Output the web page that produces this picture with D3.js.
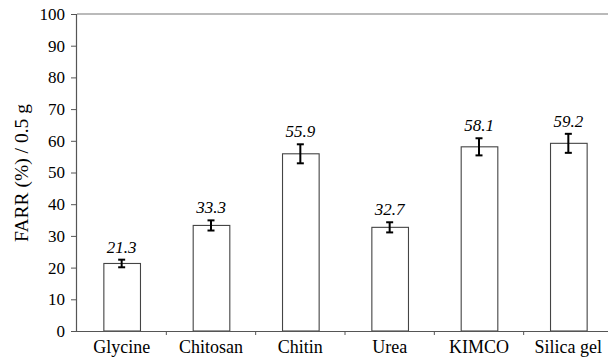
<!DOCTYPE html>
<html>
<head>
<meta charset="utf-8">
<script src="https://cdn.jsdelivr.net/npm/d3@7"></script>
<style>
  html, body { margin: 0; padding: 0; background: #fff; }
  svg text { font-family: "Liberation Serif", "Times New Roman", serif; fill: #000; }
</style>
</head>
<body>
<svg id="chart" width="608" height="357"></svg>
<script>
// Adsorbent materials and their FARR values (mean ± error)
const categories = ["Glycine", "Chitosan", "Chitin", "Urea", "KIMCO", "Silica gel"];
const values = [21.3, 33.3, 55.9, 32.7, 58.1, 59.2];
const errors = [1.2, 1.6, 3.0, 1.6, 2.7, 3.0];
const yTicks = [0, 10, 20, 30, 40, 50, 60, 70, 80, 90, 100];

const serif = "'Liberation Serif', 'Times New Roman', serif";
const svg = d3.select("#chart");
const margin = { left: 77, top: 14, bottom: 331 };
const plotRight = 613;

const x = d3.scaleBand()
  .domain(categories)
  .range([margin.left, plotRight])
  .paddingInner(0.59)
  .paddingOuter(0.295);

const xCat = d3.scaleBand().domain(categories).range([margin.left, plotRight]);

const y = d3.scaleLinear().domain([0, 100]).range([margin.bottom, margin.top]);

// top frame line
svg.append("line")
  .attr("x1", margin.left).attr("x2", 608)
  .attr("y1", y(100)).attr("y2", y(100))
  .attr("stroke", "#777").attr("stroke-width", 1.2);

// bars
svg.append("g").selectAll("rect")
  .data(categories)
  .join("rect")
  .attr("x", d => x(d) + 0.5)
  .attr("y", (d, i) => y(values[i]))
  .attr("width", x.bandwidth())
  .attr("height", (d, i) => y(0) - y(values[i]))
  .attr("fill", "#fff")
  .attr("stroke", "#444")
  .attr("stroke-width", 1.1);

// error bars
const eb = svg.append("g").attr("stroke", "#000").attr("stroke-width", 2);
categories.forEach((c, i) => {
  const cx = x(c) + x.bandwidth() / 2;
  const y1 = y(values[i] + errors[i]);
  const y0 = y(values[i] - errors[i]);
  eb.append("line").attr("x1", cx).attr("x2", cx).attr("y1", y1).attr("y2", y0);
  eb.append("line").attr("x1", cx - 3.5).attr("x2", cx + 3.5).attr("y1", y1).attr("y2", y1);
  eb.append("line").attr("x1", cx - 3.5).attr("x2", cx + 3.5).attr("y1", y0).attr("y2", y0);
});

// value labels
svg.append("g").selectAll("text")
  .data(categories)
  .join("text")
  .attr("x", d => x(d) + x.bandwidth() / 2)
  .attr("y", (d, i) => y(values[i] + errors[i]) - 7)
  .attr("text-anchor", "middle")
  .attr("font-style", "italic")
  .attr("font-size", 17)
  .text((d, i) => values[i].toFixed(1));

// y axis
const yAxis = svg.append("g")
  .attr("transform", `translate(${margin.left - 1},0)`)
  .call(d3.axisLeft(y).tickValues(yTicks).tickSize(5).tickPadding(6).tickFormat(d3.format("d")))
  .attr("font-family", serif)
  .attr("font-size", 17);
yAxis.select(".domain").attr("stroke", "#555").attr("stroke-width", 1.2);
yAxis.selectAll(".tick line").attr("stroke", "#555");
yAxis.selectAll(".tick text").attr("fill", "#000");

// x axis baseline with separator ticks between categories
svg.append("line")
  .attr("x1", margin.left - 1).attr("x2", 608)
  .attr("y1", y(0) + 0.5).attr("y2", y(0) + 0.5)
  .attr("stroke", "#555").attr("stroke-width", 1.2);
svg.append("g").selectAll("line")
  .data(categories.slice(1))
  .join("line")
  .attr("x1", d => xCat(d)).attr("x2", d => xCat(d))
  .attr("y1", y(0)).attr("y2", y(0) + 4)
  .attr("stroke", "#555");

svg.append("g").selectAll("text")
  .data(categories)
  .join("text")
  .attr("x", d => x(d) + x.bandwidth() / 2)
  .attr("y", 353)
  .attr("text-anchor", "middle")
  .attr("font-size", 18)
  .text(d => d);

// y axis title
svg.append("text")
  .attr("transform", "translate(28,173) rotate(-90)")
  .attr("text-anchor", "middle")
  .attr("font-size", 19.5)
  .text("FARR (%) / 0.5 g");
</script>
</body>
</html>
